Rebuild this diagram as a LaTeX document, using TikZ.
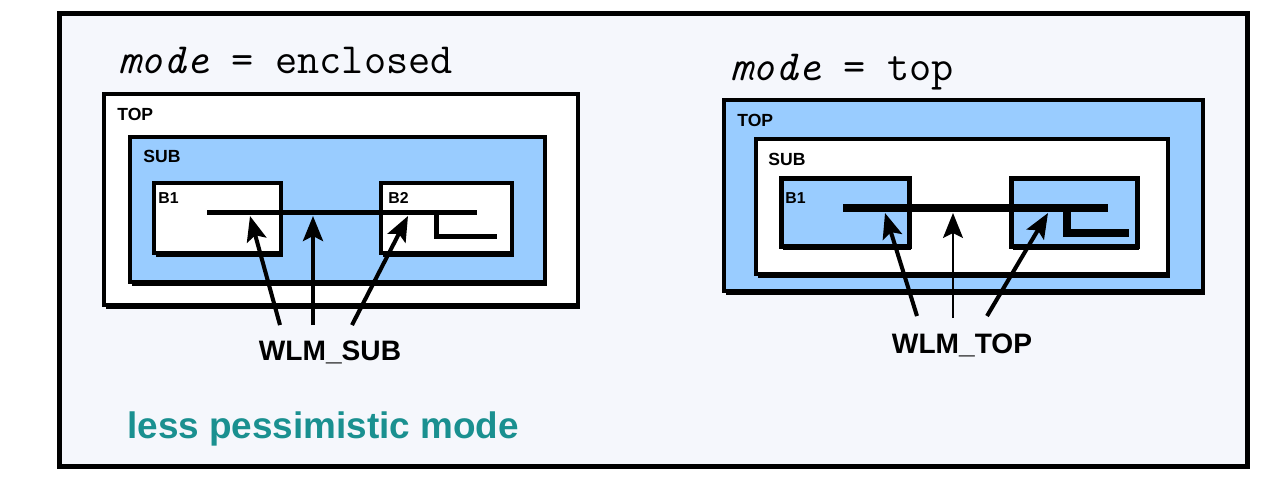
\documentclass[tikz,border=0pt]{standalone}
\usepackage{fontspec}
\setmainfont{Liberation Sans}
\usetikzlibrary{arrows.meta, calc, fit, shadows}
\definecolor{wlmblue}{HTML}{99CCFF}
\definecolor{wlmpale}{HTML}{F5F7FC}
\definecolor{wlmteal}{HTML}{1A9090}

\begin{document}
\begin{tikzpicture}[x=0.02cm, y=-0.02cm,
    frame/.style={draw, line width=2.85pt, fill=wlmpale, inner sep=0pt},
    blk/.style={draw, line width=2.2pt, inner sep=0pt,
                drop shadow={shadow xshift=0.04cm, shadow yshift=-0.07cm,
                             fill=black, opacity=1}},
    tag/.style={font=\fontsize{10}{12}\selectfont\bfseries,
                inner sep=0pt, anchor=base west},
    smalltag/.style={tag, font=\fontsize{9}{11}\selectfont\bfseries},
    modeline/.style={font=\ttfamily\fontsize{24.5}{27}\selectfont,
                     inner sep=0pt, anchor=base west},
    wlm/.style={font=\fontsize{16}{19}\selectfont\bfseries,
                inner sep=0pt, anchor=base},
    wire/.style={line width=2.85pt},
    sig/.style={line width=2.3pt,
                -{Stealth[length=0.5cm, width=0.4cm, inset=0.1cm]}}
  ]
  \useasboundingbox (0,0) rectangle (1285,491);
  \fill[white] (0,0) rectangle (1285,491);
  \node[frame, fit={(59.5,13.5) (1247.5,466.5)}] (frame) {};

  % mode = enclosed
  \node[modeline] (modeL) at (118,73) {\textit{mode} = enclosed};
  \node[blk, fill=white, fit={(104,94) (578,305)}] (topL) {};
  \node[tag] (topLtag) at (117,120) {TOP};
  \node[blk, fill=wlmblue, fit={(130,137) (545,282)}] (subL) {};
  \node[tag] (subLtag) at (143,162) {SUB};
  \node[blk, fill=white, fit={(154,183) (281,253)}] (b1L) {};
  \node[blk, fill=white, fit={(381,183) (512,253)}] (b2L) {};
  \node[smalltag] (b1Ltag) at (158,203) {B1};
  \node[smalltag] (b2Ltag) at (388,203) {B2};
  \coordinate (netLa) at (207,212);
  \coordinate (netLb) at (477,212);
  \draw[wire] (netLa) -- (netLb);
  \draw[wire] (436,212) -- (436,236) -- (497,236);
  \coordinate (hitL1) at (250,216);
  \coordinate (hitL2) at (313,216);
  \coordinate (hitL3) at (408,216);
  \node[wlm] (wsub) at (330,360) {WLM\_SUB};
  \draw[sig] ($(wsub.north)+(-50,-15)$) -- (hitL1);
  \draw[sig] ($(wsub.north)+(-17,-15)$) -- (hitL2);
  \draw[sig] ($(wsub.north)+(22,-15)$) -- (hitL3);

  % mode = top
  \node[modeline] (modeR) at (730,80) {\textit{mode} = top};
  \node[blk, fill=wlmblue, fit={(724,100) (1203,291)}] (topR) {};
  \node[tag] (topRtag) at (737,126) {TOP};
  \node[blk, fill=white, fit={(756,139) (1168,274)}] (subR) {};
  \node[tag] (subRtag) at (768,165) {SUB};
  \node[blk, fill=wlmblue, line width=2.85pt, fit={(781,178) (909,246)}] (b1R) {};
  \node[blk, fill=wlmblue, line width=2.85pt, fit={(1011,178) (1137,246)}] (b2R) {};
  \node[smalltag] (b1Rtag) at (785,203) {B1};
  \coordinate (netRa) at (843,208);
  \coordinate (netRb) at (1108,208);
  \draw[wire, line width=4pt] (netRa) -- (netRb);
  \draw[wire, line width=4pt] (1067,208) -- (1067,233) -- (1129,233);
  \coordinate (hitR1) at (885,213);
  \coordinate (hitR2) at (953,213);
  \coordinate (hitR3) at (1048,213);
  \node[wlm] (wtop) at (962,353) {WLM\_TOP};
  \draw[sig] ($(wtop.north)+(-45,-17)$) -- (hitR1);
  \draw[sig, line width=1.15pt] ($(wtop.north)+(-9,-15)$) -- (hitR2);
  \draw[sig] ($(wtop.north)+(25,-17)$) -- (hitR3);

  \node[font=\fontsize{21}{25}\selectfont\bfseries, text=wlmteal,
        inner sep=0pt, anchor=base west] (note) at (127,438) {less pessimistic mode};
\end{tikzpicture}
\end{document}
